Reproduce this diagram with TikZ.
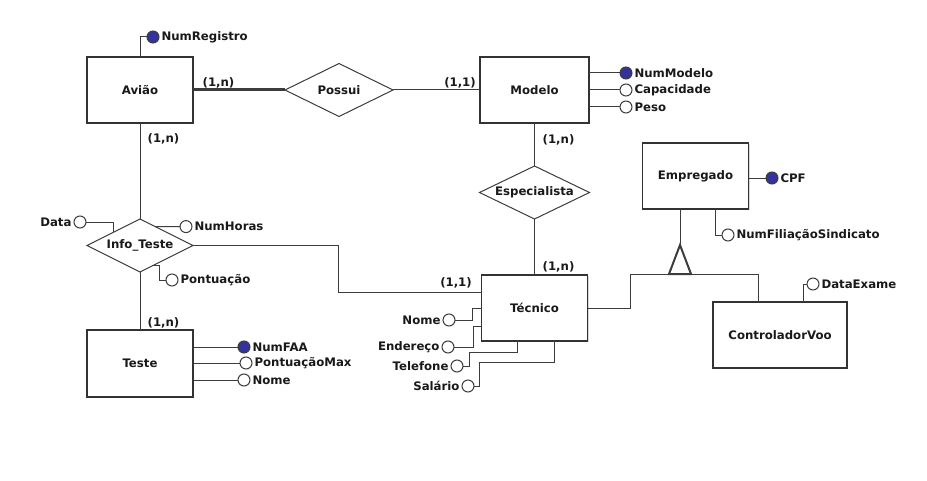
\documentclass[tikz,border=0pt]{standalone}
\usepackage{fontspec}
\setmainfont{DejaVu Sans}
\usetikzlibrary{shapes.geometric,shadows}

\definecolor{keyblue}{RGB}{51,51,153}
\definecolor{erline}{RGB}{60,60,60}

\tikzset{every picture/.style={line width=0.75pt}}
\tikzset{
  erfont/.style={font=\fontsize{8.8}{10}\selectfont\bfseries, text=black!90},
  entity/.style={erfont, draw=black!80, fill=white, line width=0.8pt, minimum width=79.5pt, minimum height=49.5pt, inner sep=0pt, outer sep=0pt, drop shadow={shadow xshift=0.9pt, shadow yshift=-0.9pt, fill=black!30, opacity=.5}},
  relation/.style={erfont, shape=diamond, aspect=2, draw=erline, fill=white, minimum width=81pt, minimum height=39.75pt, inner sep=0pt, outer sep=0pt},
  attr/.style={circle, draw=erline, fill=white, minimum size=9pt, inner sep=0pt, outer sep=0pt},
  keyattr/.style={attr, fill=keyblue},
  attrtext/.style={erfont, inner sep=1.5pt},
  card/.style={erfont, inner sep=0pt},
  link/.style={draw=erline, line width=0.75pt}
}

\begin{document}
\begin{tikzpicture}[x=0.75pt,y=0.75pt,yscale=-1,xscale=1]
\useasboundingbox (0,0) rectangle (927,481);

%Shape: Rectangle (entities)
\node[entity] (aviao) at (140,90) {Avião};
\node[entity, minimum width=81.75pt] (modelo) at (534.5,90) {Modelo};
\node[entity] (tecnico) at (534.5,308) {Técnico};
\node[entity, minimum height=50.25pt] (teste) at (140,363.5) {Teste};
\node[entity] (empregado) at (695.5,176) {Empregado};
\node[entity, minimum width=100.5pt] (controlador) at (780,335) {ControladorVoo};

%Shape: Diamond (relations)
\node[relation] (possui) at (339,90) {Possui};
\node[relation, minimum width=82.5pt] (especialista) at (534.5,192.5) {Especialista};
\node[relation, minimum width=79.5pt] (infoteste) at (140,245.5) {Info\_Teste};

%Shape: Circle (attributes)
\node[keyattr, label={[attrtext]right:NumRegistro}] (numregistro) at (153,37) {};
\node[keyattr, label={[attrtext]right:NumModelo}] (nummodelo) at (626,73) {};
\node[attr, label={[attrtext]right:Capacidade}] (capacidade) at (626,90) {};
\node[attr, label={[attrtext]right:Peso}] (peso) at (626,107) {};
\node[keyattr, label={[attrtext]right:CPF}] (cpf) at (772,178) {};
\node[attr, label={[attrtext]right:NumFiliaçãoSindicato}] (numfiliacao) at (728,235) {};
\node[attr, label={[attrtext]right:DataExame}] (dataexame) at (813,284) {};
\node[attr, label={[attrtext]left:Data}] (data) at (80,222) {};
\node[attr, label={[attrtext]right:NumHoras}] (numhoras) at (186,226.6) {};
\node[attr, label={[attrtext]right:Pontuação}] (pontuacao) at (172,280) {};
\node[keyattr, label={[attrtext]right:NumFAA}] (numfaa) at (244,347) {};
\node[attr, label={[attrtext]right:PontuaçãoMax}] (pontuacaomax) at (246,363) {};
\node[attr, label={[attrtext]right:Nome}] (nometeste) at (244,380) {};
\node[attr, label={[attrtext]left:Nome}] (nome) at (449,320) {};
\node[attr, label={[attrtext]left:Endereço}] (endereco) at (448,347) {};
\node[attr, label={[attrtext]left:Telefone}] (telefone) at (457,366) {};
\node[attr, label={[attrtext]left:Salário}] (salario) at (468,386) {};

% Text Node (cardinalities)
\node[card] (cardA) at (218.5,83) {(1,n)};
\node[card] (cardB) at (460,83) {(1,1)};
\node[card] (cardC) at (558.5,140) {(1,n)};
\node[card] (cardD) at (558.5,267) {(1,n)};
\node[card] (cardE) at (456,283) {(1,1)};
\node[card] (cardF) at (163.5,139) {(1,n)};
\node[card] (cardG) at (163.5,323) {(1,n)};

%Straight Lines (relations)
\draw[link, line width=2.25pt] (aviao.east) -- (possui.west);
\draw[link] (possui) -- (modelo);
\draw[link] (modelo) -- (especialista);
\draw[link] (especialista) -- (tecnico);
\draw[link] (aviao) -- (infoteste);
\draw[link] (infoteste) -- (teste);
\draw[link] (infoteste.east) -| (338,292) -- (tecnico.west |- 0,292);

%Straight Lines (attributes)
\draw[link] (aviao.north) |- (numregistro);
\draw[link] (modelo.east |- nummodelo) -- (nummodelo);
\draw[link] (modelo.east |- capacidade) -- (capacidade);
\draw[link] (modelo.east |- peso) -- (peso);
\draw[link] (empregado.east |- cpf) -- (cpf);
\draw[link] (numfiliacao) -| (715,0 |- empregado.south);
\draw[link] (dataexame) -| (803,0 |- controlador.north);
\draw[link] (data) -| (infoteste.north west);
\draw[link] (infoteste.51) -- (numhoras);
\draw[link] (infoteste.-59) -- ++(7,0) |- (pontuacao);
\draw[link] (teste.east |- numfaa) -- (numfaa);
\draw[link] (teste.east |- pontuacaomax) -- (pontuacaomax);
\draw[link] (teste.east |- nometeste) -- (nometeste);
\draw[link] (nome) -| (472,308) -- (tecnico.west);
\draw[link] (endereco) -| (473,326) -- (tecnico.west |- 0,326);
\draw[link] (telefone) -| (469,352) -| (517,0 |- tecnico.south);
\draw[link] (salario) -| (479,362) -| (554,0 |- tecnico.south);

%Specialization
\coordinate (apex) at (680,245);
\draw[link] (680,0 |- empregado.south) -- (apex);
\draw[link, line width=1.5pt] (apex) -- ++(-11,29) -- ++(22,0) -- cycle;
\draw[link] (tecnico.east) -| (630,274) -- (758,274) -- (758,0 |- controlador.north);

\end{tikzpicture}
\end{document}
